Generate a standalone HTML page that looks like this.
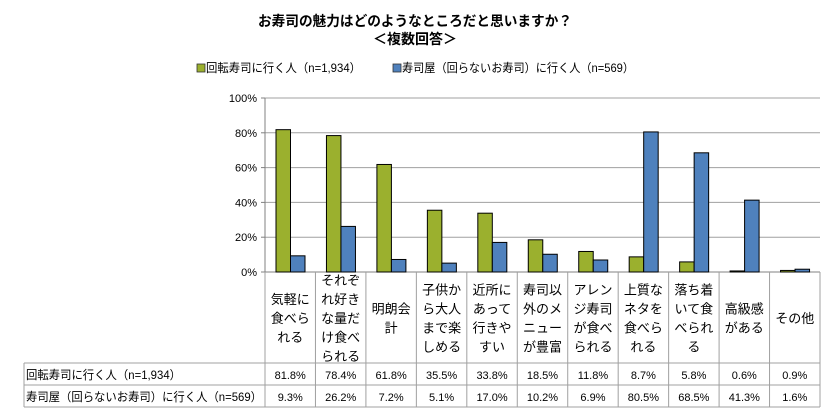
<!DOCTYPE html>
<html><head><meta charset="utf-8"><style>
body{margin:0;background:#fff;width:836px;height:415px;overflow:hidden}
svg text{font-family:"Liberation Sans","Noto Sans CJK JP",sans-serif;fill:#000}
</style></head><body>
<svg id="c" width="836" height="415" xmlns="http://www.w3.org/2000/svg">
<text x="258" y="26" textLength="314" lengthAdjust="spacingAndGlyphs" font-size="14" font-weight="bold">お寿司の魅力はどのようなところだと思いますか？</text>
<text x="415" y="44" text-anchor="middle" font-size="14" font-weight="bold">＜複数回答＞</text>
<g>
<rect x="197" y="64" width="8" height="8" fill="#9bb02e" stroke="#333" stroke-width="0.8"/>
<text x="206" y="72" textLength="155" lengthAdjust="spacingAndGlyphs" font-size="12">回転寿司に行く人（n=1,934）</text>
<rect x="393" y="64" width="8" height="8" fill="#4f81bd" stroke="#333" stroke-width="0.8"/>
<text x="402" y="72" textLength="232" lengthAdjust="spacingAndGlyphs" font-size="12">寿司屋（回らないお寿司）に行く人（n=569）</text>
</g>
<g id="grid"></g><g id="bars"></g><g id="table"></g>
</svg>
<script>
const categories=[["気軽に","食べら","れる"],["それぞ","れ好き","な量だ","け食べ","られる"],["明朗会","計"],["子供か","ら大人","まで楽","しめる"],["近所に","あって","行きや","すい"],["寿司以","外のメ","ニュー","が豊富"],["アレン","ジ寿司","が食べ","られる"],["上質な","ネタを","食べら","れる"],["落ち着","いて食","べられ","る"],["高級感","がある"],["その他"]];
const kaiten=[81.8,78.4,61.8,35.5,33.8,18.5,11.8,8.7,5.8,0.6,0.9];
const sushiya=[9.3,26.2,7.2,5.1,17.0,10.2,6.9,80.5,68.5,41.3,1.6];
const ticks=[0,20,40,60,80,100];
const seriesNames=["回転寿司に行く人（n=1,934）","寿司屋（回らないお寿司）に行く人（n=569）"];
const headerWidths=[155,236];
const X0=265,X1=820,Y0=272,Y1=98,TL=24;
const cw=(X1-X0)/categories.length;
const y=v=>Y0-(v/100)*(Y0-Y1);
const NS="http://www.w3.org/2000/svg";
function mk(t,a,p){const e=document.createElementNS(NS,t);for(const k in a)e.setAttribute(k,a[k]);p.appendChild(e);return e;}
const g=document.getElementById('grid'),b=document.getElementById('bars'),tb=document.getElementById('table');
ticks.forEach(t=>{
 const l=mk('line',{x1:X0,x2:X1,y1:y(t),y2:y(t),stroke:t?'#a0a0a0':'#808080','stroke-width':1},g);
 
 
 mk('line',{x1:X0-4,x2:X0,y1:y(t),y2:y(t),stroke:'#808080'},g);
 const tx=mk('text',{x:X0-8,y:y(t)+4,'text-anchor':'end','font-size':11},g);tx.textContent=t+'%';
 
 
});
mk('line',{x1:X0,x2:X0,y1:Y1,y2:Y0,stroke:'#808080'},g);
categories.forEach((c,i)=>{
 const cx=X0+i*cw;
 const r1=mk('rect',{x:cx+11,y:y(kaiten[i]),width:14.5,height:Y0-y(kaiten[i]),fill:'#9bb02e',stroke:'#000','stroke-width':1},b);
 
 
 const r2=mk('rect',{x:cx+25.5,y:y(sushiya[i]),width:14.5,height:Y0-y(sushiya[i]),fill:'#4f81bd',stroke:'#000','stroke-width':1},b);
 
 
 const n=c.length,top=318-(n-1)*9.5;
 c.forEach((s,j)=>{const t=mk('text',{x:cx+cw/2,y:top+j*19+5,'text-anchor':'middle','font-size':13},tb);t.textContent=s;
  
  });
 [[kaiten[i],379],[sushiya[i],401]].forEach(([v,yy])=>{const t=mk('text',{x:cx+cw/2,y:yy,'text-anchor':'middle','font-size':11},tb);t.textContent=v.toFixed(1)+'%';
  
  });
});
const ln=(a)=>mk('line',Object.assign({stroke:'#a0a0a0','stroke-width':1},a),tb);
for(let i=0;i<=categories.length;i++){const xx=X0+i*cw;ln({x1:xx,x2:xx,y1:Y0,y2:407});}
[[363,TL],[385,TL],[407,TL]].forEach(([yy,x0])=>ln({x1:x0,x2:X1,y1:yy,y2:yy}));
ln({x1:TL,x2:TL,y1:363,y2:407});
seriesNames.forEach((s,k)=>{const t=mk('text',{x:TL+2,y:379+k*22,'font-size':12,textLength:headerWidths[k],lengthAdjust:'spacingAndGlyphs'},tb);t.textContent=s;
 
 });
</script>
</body></html>
